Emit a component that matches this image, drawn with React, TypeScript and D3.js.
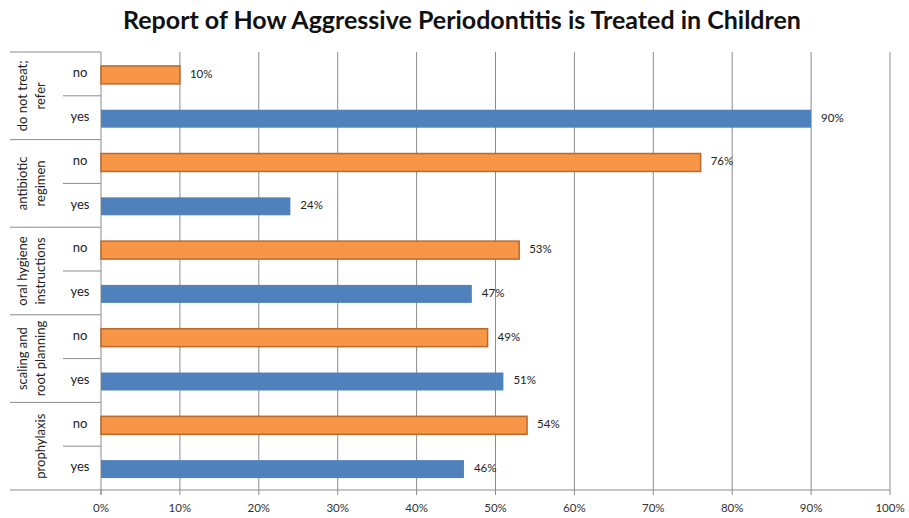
import React from "react";
import * as d3 from "d3";

const groups = ["do not treat; refer", "antibiotic regimen", "oral hygiene instructions", "scaling and root planning", "prophylaxis"];
const groupLines = [["do not treat;", "refer"], ["antibiotic", "regimen"], ["oral hygiene", "instructions"], ["scaling and", "root planning"], ["prophylaxis"]];
const noValues = [10, 76, 53, 49, 54];
const yesValues = [90, 24, 47, 51, 46];
const ticks = [0, 10, 20, 30, 40, 50, 60, 70, 80, 90, 100];

const W = 909, H = 518;
const left = 101, right = 890, top = 52, bottom = 490;
const font = "Lato, 'Open Sans', sans-serif";

export default function App() {
  const x = d3.scaleLinear().domain([0, 100]).range([left, right]);
  const rows: { key: string; g: number; kind: string; v: number }[] = [];
  groups.forEach((g, i) => {
    rows.push({ key: g + "|no", g: i, kind: "no", v: noValues[i] });
    rows.push({ key: g + "|yes", g: i, kind: "yes", v: yesValues[i] });
  });
  const y = d3.scaleBand().domain(rows.map(r => r.key)).range([top + 1, bottom + 1]).paddingInner(0.59).paddingOuter(0.295);
  const yRow = d3.scaleBand().domain(rows.map(r => r.key)).range([top, bottom]);
  const yG = d3.scaleBand().domain(groups).range([top, bottom]);
  const bh = y.bandwidth();

  return (
    <svg width={W} height={H} style={{ position: "absolute", left: 0, top: 0, background: "#fff" }}>
      <text x={462} y={29} textAnchor="middle" fontFamily={font} fontWeight="bold" fontSize={25} fill="#111">
        Report of How Aggressive Periodontitis is Treated in Children
      </text>
      {ticks.slice(1).map(t => (
        <line key={"g" + t} x1={x(t)} x2={x(t)} y1={top} y2={bottom} stroke="#8c8c8c" strokeWidth={1} />
      ))}
      {ticks.map(t => (
        <g key={"t" + t}>
          <line x1={x(t)} x2={x(t)} y1={bottom} y2={bottom + 5} stroke="#8c8c8c" />
          <text x={x(t)} y={512} textAnchor="middle" fontFamily={font} fontSize={11.5} fill="#333">{t}%</text>
        </g>
      ))}
      <line x1={10} x2={right} y1={bottom} y2={bottom} stroke="#8c8c8c" />
      <line x1={left} x2={left} y1={top} y2={bottom + 5} stroke="#8c8c8c" />
      {groups.map((g, i) => (
        <g key={g}>
          <line x1={10} x2={left} y1={yG(g)!} y2={yG(g)!} stroke="#8c8c8c" />
          <line x1={63} x2={left} y1={yG(g)! + yG.bandwidth() / 2} y2={yG(g)! + yG.bandwidth() / 2} stroke="#8c8c8c" />
          {groupLines[i].map((ln, j) => {
            const cx = groupLines[i].length === 1 ? 42 : 24 + j * 18;
            const cy = yG(g)! + yG.bandwidth() / 2;
            return (
              <text key={j} transform={`translate(${cx},${cy}) rotate(-90)`} textAnchor="middle" dominantBaseline="middle" fontFamily={font} fontSize={13} fill="#222">{ln}</text>
            );
          })}
        </g>
      ))}
      {rows.map(r => (
        <g key={r.key}>
          <text x={80} y={yRow(r.key)! + yRow.bandwidth() / 2} textAnchor="middle" dominantBaseline="middle" fontFamily={font} fontSize={13} fill="#222">{r.kind}</text>
          <rect x={x(0)} y={y(r.key)!} width={x(r.v) - x(0)} height={bh}
            fill={r.kind === "no" ? "#F79646" : "#4F81BD"}
            stroke={r.kind === "no" ? "#B86A2E" : "none"} strokeWidth={1.5} />
          <text x={x(r.v) + 10} y={y(r.key)! + bh / 2} dominantBaseline="middle" fontFamily={font} fontSize={11.5} fill="#222">{r.v}%</text>
        </g>
      ))}
    </svg>
  );
}
